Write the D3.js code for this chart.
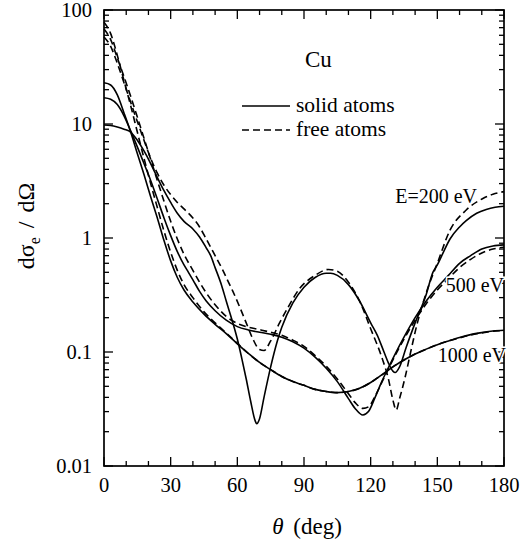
<!DOCTYPE html>
<html>
<head>
<meta charset="utf-8">
<script src="https://cdn.jsdelivr.net/npm/d3@7"></script>
<style>
html,body{margin:0;padding:0;background:#fff;}
svg{display:block;}
text{font-family:"Liberation Serif","Times New Roman",serif;fill:#000;}
</style>
</head>
<body>
<svg id="chart" width="532" height="542"></svg>
<script>
// ---- Data (theta in degrees, dσe/dΩ values) ----
const xTicks = [0, 30, 60, 90, 120, 150, 180];
const yTicks = [0.01, 0.1, 1, 10, 100];
const yTickLabels = ["0.01", "0.1", "1", "10", "100"];

const theta1000s = [0,3,6,9,12,15,18,21,24,27,30,33,36,40,45,50,55,60,65,70,75,80,85,90,95,100,105,110,115,120,125,130,135,140,145,150,155,160,165,170,175,180];
const solid1000 = [23,22,18,12.5,8.5,5.5,3.6,2.3,1.5,0.95,0.63,0.45,0.35,0.275,0.215,0.175,0.145,0.118,0.097,0.081,0.07,0.061,0.055,0.051,0.047,0.045,0.044,0.045,0.048,0.054,0.063,0.074,0.085,0.096,0.106,0.116,0.125,0.134,0.142,0.148,0.153,0.155];

const theta1000f = [0,3,6,9,12,15,18,21,24,27,30,33,36,40,45,50,55,60,65,70,75,80,85,90,95,100,105,110,115,120,125,130,135,140,145,150,155,160,165,170,175,180];
const free1000 = [78,62,40,24,14.5,8.5,5,3.0,1.85,1.15,0.75,0.52,0.39,0.3,0.225,0.18,0.147,0.119,0.097,0.081,0.07,0.061,0.055,0.051,0.047,0.045,0.044,0.045,0.048,0.054,0.063,0.074,0.085,0.096,0.106,0.116,0.125,0.133,0.141,0.147,0.152,0.154];

const theta500s = [0,3,6,9,12,15,18,21,24,27,30,33,36,38,40,43,46,50,55,60,65,70,75,80,85,90,95,100,105,110,113,116.5,119,122,125,128,131,135,140,145,150,155,160,165,170,175,180];
const solid500 = [17,16.5,14.8,11.8,8.7,6.3,4.5,3.2,2.2,1.5,1.05,0.76,0.58,0.5,0.43,0.34,0.28,0.23,0.19,0.167,0.156,0.149,0.143,0.135,0.123,0.108,0.09,0.072,0.055,0.039,0.032,0.028,0.03,0.04,0.055,0.073,0.096,0.135,0.2,0.28,0.37,0.47,0.6,0.7,0.8,0.85,0.87];

const theta500f = [0,3,6,9,12,15,18,21,24,27,30,33,36,40,43,46,50,55,60,65,70,75,80,85,90,95,100,105,110,113,116.5,119,122,125,128,131,135,140,145,150,155,160,165,170,175,180];
const free500 = [68,55,38,26,17.5,11.5,7.5,4.9,3.2,2.1,1.4,0.98,0.72,0.52,0.41,0.33,0.26,0.205,0.178,0.165,0.157,0.149,0.14,0.127,0.112,0.093,0.075,0.058,0.043,0.036,0.032,0.033,0.041,0.054,0.071,0.093,0.13,0.19,0.265,0.35,0.44,0.55,0.65,0.74,0.8,0.83];

const theta200s = [0,3,6,9,12,15,18,21,24,27,30,33,36,40,43,46,48,50,53,55,58,60,62,64,66,68,68.7,70,72,75,78,80,85,90,95,100,102,105,110,115,120,123,126,128,130,131,133,136,140,145,148,150,152,155.7,160,163,167.7,172,176,180];
const solid200 = [9.8,9.7,9.4,9.0,8.5,7.2,5.8,4.5,3.4,2.6,2.05,1.65,1.4,1.2,1.02,0.82,0.7,0.55,0.38,0.28,0.18,0.13,0.088,0.058,0.037,0.025,0.0235,0.026,0.04,0.074,0.125,0.165,0.27,0.37,0.45,0.49,0.49,0.47,0.39,0.28,0.18,0.14,0.1,0.08,0.068,0.066,0.074,0.11,0.18,0.32,0.5,0.58,0.7,0.98,1.25,1.42,1.65,1.78,1.86,1.9];

const theta200f = [0,3,6,9,12,15,18,21,24,27,30,33,36,40,43,46,50,53.5,56,58,61,64,67,70,72,75,79,83,88,95,101,105,110,115,120,125,128,130,131.5,133,135.5,138,140.7,145,150,155.7,163,170.7,175,180];
const free200 = [58,48,34,23,15.5,10.5,7.2,5.0,3.7,2.9,2.4,2.05,1.8,1.5,1.25,0.98,0.7,0.52,0.41,0.34,0.25,0.18,0.13,0.105,0.103,0.125,0.18,0.25,0.36,0.47,0.53,0.51,0.41,0.28,0.16,0.09,0.058,0.038,0.031,0.039,0.06,0.1,0.17,0.33,0.6,1.17,1.76,2.23,2.42,2.55];

const seriesList = [
  {theta: theta1000s, values: solid1000, dashed: false},
  {theta: theta1000f, values: free1000, dashed: true},
  {theta: theta500s, values: solid500, dashed: false},
  {theta: theta500f, values: free500, dashed: true},
  {theta: theta200s, values: solid200, dashed: false},
  {theta: theta200f, values: free200, dashed: true}
];

const energyLabels = ["E=200 eV", "500 eV", "1000 eV"];

// ---- Layout ----
const svg = d3.select("#chart");
const L = 104, R = 504, T = 10, B = 466;
const x = d3.scaleLinear().domain([0, 180]).range([L, R]);
const y = d3.scaleLog().domain([0.01, 100]).range([B, T]);

// curves
const line = d3.line()
  .x(d => x(d[0]))
  .y(d => y(d[1]))
  .curve(d3.curveMonotoneX);

const gc = svg.append("g");
seriesList.forEach(s => {
  const pts = s.theta.map((t, i) => [t, s.values[i]]);
  gc.append("path")
    .attr("d", line(pts))
    .attr("fill", "none")
    .attr("stroke", "#000")
    .attr("stroke-width", 1.6)
    .attr("stroke-dasharray", s.dashed ? "7,4" : null);
});

// frame
svg.append("rect")
  .attr("x", L).attr("y", T).attr("width", R - L).attr("height", B - T)
  .attr("fill", "none").attr("stroke", "#000").attr("stroke-width", 1.7);

// ticks
const tg = svg.append("g").attr("stroke", "#000").attr("stroke-width", 1.3);
d3.range(0, 181, 10).forEach(t => {
  const len = (t % 30 === 0) ? 9 : 5;
  tg.append("line").attr("x1", x(t)).attr("x2", x(t)).attr("y1", B).attr("y2", B - len);
  tg.append("line").attr("x1", x(t)).attr("x2", x(t)).attr("y1", T).attr("y2", T + len);
});
const minorY = [];
[0.01, 0.1, 1, 10].forEach(d => { for (let k = 2; k <= 9; k++) minorY.push(d * k); });
minorY.forEach(v => {
  tg.append("line").attr("x1", L).attr("x2", L + 5).attr("y1", y(v)).attr("y2", y(v));
  tg.append("line").attr("x1", R).attr("x2", R - 5).attr("y1", y(v)).attr("y2", y(v));
});
yTicks.forEach(v => {
  tg.append("line").attr("x1", L).attr("x2", L + 9).attr("y1", y(v)).attr("y2", y(v));
  tg.append("line").attr("x1", R).attr("x2", R - 9).attr("y1", y(v)).attr("y2", y(v));
});

// tick labels
xTicks.forEach(t => {
  svg.append("text").attr("x", x(t)).attr("y", 492)
    .attr("text-anchor", "middle").attr("font-size", 20.5).text(t);
});
yTicks.forEach((v, i) => {
  svg.append("text").attr("x", 92).attr("y", y(v) + 7)
    .attr("text-anchor", "end").attr("font-size", 20.5).text(yTickLabels[i]);
});

// axis titles
const xt = svg.append("text").attr("x", 307).attr("y", 534)
  .attr("text-anchor", "middle").attr("font-size", 23);
xt.append("tspan").attr("font-style", "italic").text("θ");
xt.append("tspan").attr("dx", 4).text(" (deg)");

const yt = svg.append("text")
  .attr("transform", "translate(34,226) rotate(-90)")
  .attr("text-anchor", "middle").attr("font-size", 24);
yt.append("tspan").text("dσ");
yt.append("tspan").attr("font-size", 16).attr("dy", 6).text("e");
yt.append("tspan").attr("dy", -6).attr("dx", 3).text(" / ");
yt.append("tspan").attr("dx", 3).text("dΩ");

// legend
svg.append("text").attr("x", 305).attr("y", 67).attr("font-size", 23).text("Cu");
svg.append("line").attr("x1", 242).attr("x2", 290).attr("y1", 106).attr("y2", 106)
  .attr("stroke", "#000").attr("stroke-width", 1.6);
svg.append("line").attr("x1", 242).attr("x2", 290).attr("y1", 130).attr("y2", 130)
  .attr("stroke", "#000").attr("stroke-width", 1.6).attr("stroke-dasharray", "7,4");
svg.append("text").attr("x", 296).attr("y", 112).attr("font-size", 21.5).text("solid atoms");
svg.append("text").attr("x", 296).attr("y", 136).attr("font-size", 21.5).text("free atoms");

// energy labels
function eLabel(txt, xr, yb) {
  svg.append("text").attr("x", xr).attr("y", yb).attr("text-anchor", "end").attr("font-size", 20)
    .style("paint-order", "stroke").attr("stroke", "#fff").attr("stroke-width", 3).text(txt);
}
eLabel(energyLabels[0], 477, 203);
eLabel(energyLabels[1], 504, 292);
eLabel(energyLabels[2], 506, 362);
</script>
</body>
</html>
